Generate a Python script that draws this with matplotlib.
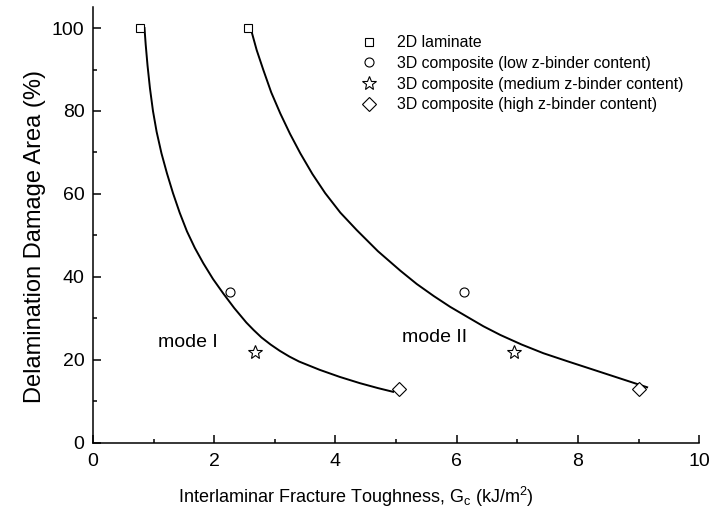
import numpy as np
import matplotlib.pyplot as plt
from matplotlib.ticker import MultipleLocator

plt.rcParams['font.family'] = ['Liberation Sans', 'DejaVu Sans']
plt.rcParams['mathtext.default'] = 'regular'

# measured points (G_c in kJ/m^2, damage area in %)
sq_x = [0.78, 2.55]
sq_y = [100, 100]
ci_x = [2.26, 6.12]
ci_y = [36.3, 36.3]
st_x = [2.67, 6.95]
st_y = [22, 22]
di_x = [5.05, 9.0]
di_y = [13, 13]

# trend lines
mode1_x = [0.85, 0.87, 0.90, 0.94, 0.99, 1.05, 1.13, 1.22, 1.32, 1.43, 1.55, 1.68, 1.82,
           1.98, 2.15, 2.33, 2.53, 2.65, 2.78, 2.93, 3.08, 3.24, 3.40, 3.74, 4.07, 4.40,
           4.70, 4.95]
mode1_y = [100, 96, 91, 85.5, 80, 75, 69.8, 65, 60.2, 55.5, 51, 47, 43.3,
           39.5, 36.0, 32.5, 29.0, 27.2, 25.4, 23.7, 22.2, 20.8, 19.6, 17.6, 15.9, 14.4,
           13.2, 12.3]
mode2_x = [2.60, 2.70, 2.81, 2.94, 3.09, 3.25, 3.42, 3.62, 3.83, 4.08, 4.35, 4.70,
           5.07, 5.34, 5.62, 5.89, 6.17, 6.44, 6.72, 7.07, 7.43, 7.84, 8.26, 8.70, 9.14]
mode2_y = [100, 94.7, 89.9, 84.5, 79.4, 74.5, 69.8, 64.8, 60.2, 55.5, 51.3, 46.2,
           41.5, 38.3, 35.4, 32.8, 30.4, 28.1, 26.0, 23.7, 21.6, 19.6, 17.6, 15.5, 13.4]

fig = plt.figure(figsize=(7.15, 5.21), dpi=100)
ax = fig.add_axes([0.130, 0.150, 0.848, 0.836])

ax.plot(mode1_x, mode1_y, color='black', lw=1.4, solid_joinstyle='round')
ax.plot(mode2_x, mode2_y, color='black', lw=1.4, solid_joinstyle='round')

mk = dict(ls='none', mfc='white', mec='black', mew=0.8, color='black')
ax.plot(sq_x, sq_y, marker='s', ms=5.5, label='2D laminate', **mk)
ax.plot(ci_x, ci_y, marker='o', ms=6.5, label='3D composite (low z-binder content)', **mk)
ax.plot(st_x, st_y, marker='*', ms=10, label='3D composite (medium z-binder content)', **mk)
ax.plot(di_x, di_y, marker='D', ms=7, label='3D composite (high z-binder content)', **mk)

ax.text(1.07, 23.2, 'mode I', fontsize=14)
ax.text(5.1, 24.2, 'mode II', fontsize=14)

ax.set_xlim(0, 10)
ax.set_ylim(0, 105)
ax.xaxis.set_major_locator(MultipleLocator(2))
ax.xaxis.set_minor_locator(MultipleLocator(1))
ax.yaxis.set_major_locator(MultipleLocator(20))
ax.yaxis.set_minor_locator(MultipleLocator(10))
ax.tick_params(which='both', direction='in', width=1.1, labelsize=14)
ax.tick_params(which='major', length=6)
ax.tick_params(which='minor', length=3)
ax.tick_params(axis='y', pad=6)
ax.tick_params(axis='x', pad=7)

for s in ['top', 'right']:
    ax.spines[s].set_visible(False)
for s in ['left', 'bottom']:
    ax.spines[s].set_linewidth(1.1)

ax.set_xlabel('Interlaminar Fracture Toughness, G$_c$ (kJ/m$^2$)', fontsize=13, labelpad=11)
ax.xaxis.label.set_x(0.434)
ax.set_ylabel('Delamination Damage Area (%)', fontsize=17, labelpad=4)
ax.yaxis.label.set_y(0.473)

ax.legend(loc='upper left', bbox_to_anchor=(0.419, 0.968), frameon=False, fontsize=11.4,
          handlelength=1.0, handletextpad=1.27, labelspacing=0.35, numpoints=1)

plt.savefig('out.png', dpi=100)
